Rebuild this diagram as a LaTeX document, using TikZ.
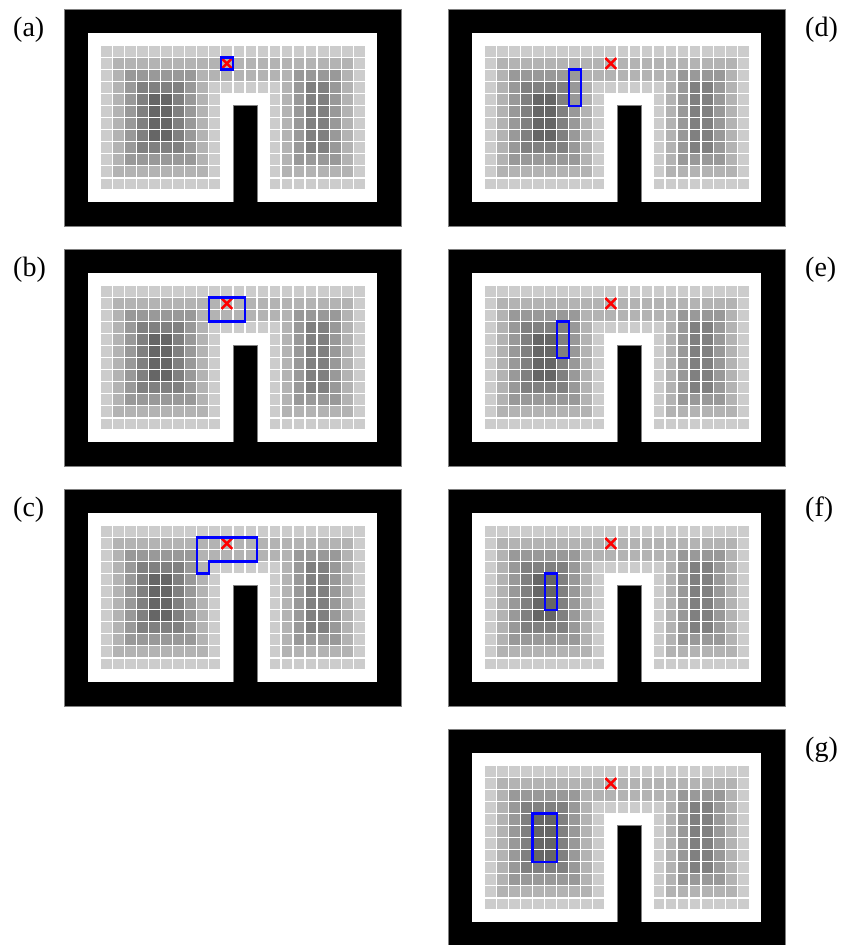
\documentclass[tikz,border=0pt]{standalone}
\usepackage{fontspec}
\setmainfont{Liberation Serif}
\definecolor{g0}{HTML}{CCCCCC}
\definecolor{g1}{HTML}{B3B3B3}
\definecolor{g2}{HTML}{999999}
\definecolor{g3}{HTML}{808080}
\definecolor{g4}{HTML}{666666}
\definecolor{agentblue}{RGB}{0,0,255}
\definecolor{goalred}{RGB}{255,0,0}
\tikzset{
  outl/.style={draw=gray, line width=0.6pt},
  agentbox/.style={draw=agentblue, line width=2.2pt, line join=miter},
  goalx/.style={draw=goalred, line width=2.4pt},
  lbl/.style={font=\fontsize{28}{32}\selectfont, inner sep=0pt, anchor=base west},
}
\newcommand\cellrow[2]{%
  \foreach \v [count=\c] in {#2}{%
    \ifnum\v<5
      \fill[g\v] ({\c+2+0.055},{#1+2+0.055}) rectangle ({\c+3-0.055},{#1+3-0.055});
    \fi
  }}
\newcommand\basegrid{%
  \fill[black] (0,0) rectangle (28,18);
  \fill[white] (2,2) rectangle (26,16);
  \fill[black] (14,8) rectangle (16,16);
  \draw[outl] (0,0) rectangle (28,18);
  \draw[outl] (14,16) -- (14,8) -- (16,8) -- (16,16);
  \cellrow{1}{0,0,0,0,0,0,0,0,0,0,0,0,0,0,0,0,0,0,0,0,0,0}
  \cellrow{2}{0,1,1,1,1,1,1,1,1,1,1,1,1,1,1,1,1,1,1,1,1,0}
  \cellrow{3}{0,1,2,2,2,2,2,2,1,1,1,1,1,1,1,1,2,2,2,2,1,0}
  \cellrow{4}{0,1,2,3,3,3,3,2,1,0,0,0,0,0,0,1,2,3,3,2,1,0}
  \cellrow{5}{0,1,2,3,4,4,3,2,1,0,9,9,9,9,0,1,2,3,3,2,1,0}
  \cellrow{6}{0,1,2,3,4,4,3,2,1,0,9,9,9,9,0,1,2,3,3,2,1,0}
  \cellrow{7}{0,1,2,3,4,4,3,2,1,0,9,9,9,9,0,1,2,3,3,2,1,0}
  \cellrow{8}{0,1,2,3,4,4,3,2,1,0,9,9,9,9,0,1,2,3,3,2,1,0}
  \cellrow{9}{0,1,2,3,3,3,3,2,1,0,9,9,9,9,0,1,2,3,3,2,1,0}
  \cellrow{10}{0,1,2,2,2,2,2,2,1,0,9,9,9,9,0,1,2,2,2,2,1,0}
  \cellrow{11}{0,1,1,1,1,1,1,1,1,0,9,9,9,9,0,1,1,1,1,1,1,0}
  \cellrow{12}{0,0,0,0,0,0,0,0,0,0,9,9,9,9,0,0,0,0,0,0,0,0}
  \draw[goalx] (13.05,4.05) -- (13.95,4.95);
  \draw[goalx] (13.05,4.95) -- (13.95,4.05);
}
\newcommand\panelat[3]{%
  \begin{scope}[shift={(#1,#2)}, x=12.04pt, y=-12.04pt]
    \basegrid
    #3
  \end{scope}}
\begin{document}
\begin{tikzpicture}[x=1pt, y=-1pt]
  \useasboundingbox (0,0) rectangle (843,945);
  \fill[white] (0,0) rectangle (843,945);
  \panelat{64.3}{9.3}{\draw[agentbox] (13,4) rectangle (14,5);}
  \panelat{64.3}{249.3}{\draw[agentbox] (12,4) rectangle (15,6);}
  \panelat{64.3}{489.3}{\draw[agentbox] (11,4) -- (16,4) -- (16,6) -- (12,6) -- (12,7) -- (11,7) -- cycle;}
  \panelat{448.3}{9.3}{\draw[agentbox] (10,5) rectangle (11,8);}
  \panelat{448.3}{249.3}{\draw[agentbox] (9,6) rectangle (10,9);}
  \panelat{448.3}{489.3}{\draw[agentbox] (8,7) rectangle (9,10);}
  \panelat{448.3}{729.3}{\draw[agentbox] (7,7) rectangle (9,11);}
  \node[lbl] (la) at (13,36.5) {(a)};
  \node[lbl] (lb) at (13,276.5) {(b)};
  \node[lbl] (lc) at (13,516.5) {(c)};
  \node[lbl] (ld) at (805,36.5) {(d)};
  \node[lbl] (le) at (805,276.5) {(e)};
  \node[lbl] (lf) at (805,516.5) {(f)};
  \node[lbl] (lg) at (805,756.5) {(g)};
\end{tikzpicture}
\end{document}
